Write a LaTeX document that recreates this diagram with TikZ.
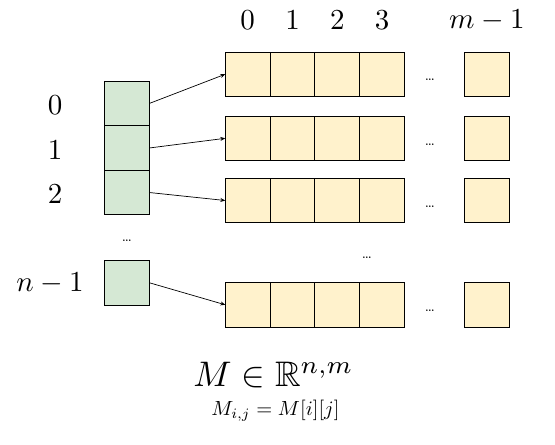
\documentclass[tikz,border=0pt]{standalone}
\usepackage{amssymb}
\usetikzlibrary{arrows.meta}
\definecolor{gfill}{HTML}{D5E8D4}
\definecolor{yfill}{HTML}{FFF2CC}
\begin{document}
\begin{tikzpicture}[x=1pt,y=-1pt,
  cellbox/.style={draw=black, line width=0.9pt, minimum height=44.5pt, inner sep=0pt, outer sep=0pt},
  gcell/.style={cellbox, fill=gfill, minimum width=45pt},
  ycell/.style={cellbox, fill=yfill, minimum width=44.8pt},
  idxlabel/.style={inner sep=0pt, scale=2.9},
  dotslabel/.style={inner sep=0pt, scale=1.5},
  bigmath/.style={inner sep=0pt, anchor=base, scale=3.55},
  smallmath/.style={inner sep=0pt, anchor=base, scale=2.05},
  ptr/.style={-{Stealth[length=5pt,width=4pt]}, line width=0.7pt}]
\useasboundingbox (0,0) rectangle (555,445);
\fill[white] (0,0) rectangle (555,445);

% green column
\node[gcell] (g0) at (126.7,103.5) {};
\node[gcell] (g1) at (126.7,148) {};
\node[gcell] (g2) at (126.7,192.5) {};
\node[gcell] (gn) at (126.7,282.7) {};
\node[dotslabel] (gdots) at (127,240.7) {\ldots};

% row labels
\node[idxlabel] (l0) at (55,105.5) {$0$};
\node[idxlabel] (l1) at (55,150.5) {$1$};
\node[idxlabel] (l2) at (55,194) {$2$};
\node[idxlabel] (ln) at (50,283.3) {$n-1$};

% yellow rows
\foreach \r/\yy in {0/74.2, 1/138.3, 2/200.5, 3/304.8} {
  \foreach \c in {0,1,2,3} {
    \node[ycell] (y\r\c) at ({247.7+44.8*\c},\yy) {};
  }
  \node[ycell] (y\r4) at (486.8,\yy) {};
  \node[dotslabel] (d\r) at (430,\yy+6) {\ldots};
}
\node[dotslabel] (mdots) at (367,257.3) {\ldots};

% column labels
\node[idxlabel] (c0) at (247.7,20) {$0$};
\node[idxlabel] (c1) at (292.5,20) {$1$};
\node[idxlabel] (c2) at (337.3,20) {$2$};
\node[idxlabel] (c3) at (382.1,20) {$3$};
\node[idxlabel] (cm) at (486.8,20) {$m-1$};

% pointers
\draw[ptr] (g0.east) -- (y00.west);
\draw[ptr] (g1.east) -- (y10.west);
\draw[ptr] (g2.east) -- (y20.west);
\draw[ptr] (gn.east) -- (y30.west);

% captions
\node[bigmath] (cap) at (273.5,386.7) {$M\in\mathbb{R}^{n,m}$};
\node[smallmath] (sub) at (275.5,415) {$M_{i,j}=M[i][j]$};
\end{tikzpicture}
\end{document}
